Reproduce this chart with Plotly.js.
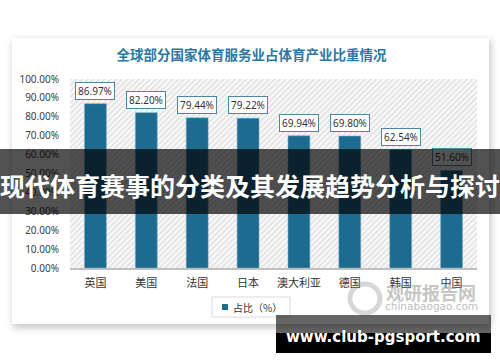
<!DOCTYPE html>
<html><head><meta charset="utf-8">
<script src="https://cdn.plot.ly/plotly-3.0.1.min.js"></script>
<style>html,body{margin:0;padding:0;background:#fff}#chart{width:500px;height:362px}</style>
</head><body><div id="chart"></div>
<script>
const categories = ['英国','美国','法国','日本','澳大利亚','德国','韩国','中国'];
const shares = [86.97, 82.20, 79.44, 79.22, 69.94, 69.80, 62.54, 51.60];
const yTicks = [0,10,20,30,40,50,60,70,80,90,100];
const yTickText = ['0.00%','10.00%','20.00%','30.00%','40.00%','50.00%','60.00%','70.00%','80.00%','90.00%','100.00%'];
const chartTitle = '全球部分国家体育服务业占体育产业比重情况';
const seriesName = '占比（%）';
const bannerText = '现代体育赛事的分类及其发展趋势分析与探讨';
const siteText = 'www.club-pgsport.com';

const W = 500, H = 362;
const M = {l: 70, r: 23, t: 79, b: 94};
const PW = W - M.l - M.r, PH = H - M.t - M.b;
const px = x => (x - M.l) / PW;           // pixel -> paper x
const py = y => (H - M.b - y) / PH;       // pixel -> paper y

const cardSvg = "<svg xmlns='http://www.w3.org/2000/svg' width='500' height='362' viewBox='0 0 500 362'>" +
  "<defs><filter id='s' x='-10%' y='-10%' width='120%' height='120%'><feGaussianBlur stdDeviation='3.5'/></filter></defs>" +
  "<rect x='13' y='40' width='478' height='288' fill='rgba(0,0,0,0.22)' filter='url(#s)'/>" +
  "<rect x='12' y='38' width='477' height='286' fill='#ffffff'/></svg>";
const hatchSvg = "<svg xmlns='http://www.w3.org/2000/svg' width='407' height='189' viewBox='0 0 407 189' preserveAspectRatio='none'>" +
  "<defs><pattern id='p' width='4' height='4' patternUnits='userSpaceOnUse' patternTransform='rotate(45)'>" +
  "<rect width='4' height='4' fill='#f9f9f9'/><rect width='1.6' height='4' fill='#e1e1e1'/></pattern></defs>" +
  "<rect width='407' height='189' fill='url(#p)'/></svg>";
const uri = s => 'data:image/svg+xml;charset=utf-8,' + encodeURIComponent(s);

const barColor = '#1d6b8e';
const trace = {
  type: 'bar', x: categories, y: shares, name: seriesName,
  width: 0.43, showlegend: false,
  marker: {color: barColor, line: {color: 'rgba(120,170,195,0.7)', width: 0.8}},
  hoverinfo: 'x+y'
};

const valueLabels = categories.map((c, i) => ({
  x: c, y: shares[i], xref: 'x', yref: 'y',
  text: shares[i].toFixed(2) + '%', showarrow: false,
  yanchor: 'bottom', yshift: 4,
  bgcolor: '#ffffff', bordercolor: '#4d87a8', borderwidth: 1, borderpad: 2,
  width: 34, height: 12,
  font: {family: 'Noto Sans', size: 10, color: '#333333'}
}));

const annotations = valueLabels.concat([
  {xref: 'paper', yref: 'paper', x: px(250), y: py(181), xanchor: 'center', yanchor: 'middle',
   text: ' ', showarrow: false, width: 500, height: 65, borderpad: 0, borderwidth: 0,
   bgcolor: 'rgba(0,0,0,0.68)'},
  {xref: 'paper', yref: 'paper', x: px(250), y: py(185), xanchor: 'center', yanchor: 'middle',
   text: '<b>' + bannerText + '</b>', showarrow: false,
   font: {family: 'Noto Sans CJK SC', size: 25, color: '#ffffff'}},
  {xref: 'paper', yref: 'paper', x: px(231), y: py(307), xanchor: 'left', yanchor: 'middle',
   text: seriesName, showarrow: false,
   font: {family: 'Noto Sans CJK SC', size: 10, color: '#333333'}},
  {xref: 'paper', yref: 'paper', x: px(431), y: py(292), xanchor: 'center', yanchor: 'middle',
   text: '<b>观研报告网</b>', showarrow: false,
   font: {family: 'Noto Sans CJK SC', size: 18, color: 'rgba(140,140,140,0.5)'}},
  {xref: 'paper', yref: 'paper', x: px(431), y: py(306), xanchor: 'center', yanchor: 'middle',
   text: 'chinabaogao.com', showarrow: false,
   font: {family: 'DejaVu Sans', size: 10.5, color: 'rgba(140,140,140,0.6)'}},
  {xref: 'paper', yref: 'paper', x: px(383.5), y: py(336.5), xanchor: 'center', yanchor: 'middle',
   text: '<b>' + siteText + '</b>', showarrow: false,
   font: {family: 'DejaVu Sans', size: 15, color: '#ffffff'}}
]);

const shapes = [
  // legend box and key
  {type: 'rect', xref: 'paper', yref: 'paper', layer: 'above',
   x0: px(212), x1: px(290), y0: py(317), y1: py(297),
   line: {color: '#d9d9d9', width: 1}, fillcolor: '#ffffff'},
  {type: 'rect', xref: 'paper', yref: 'paper', layer: 'above',
   x0: px(222), x1: px(228), y0: py(310), y1: py(304),
   line: {width: 0}, fillcolor: barColor},
  {type: 'circle', xref: 'paper', yref: 'paper', layer: 'above',
   x0: px(350), x1: px(380), y0: py(313), y1: py(284),
   line: {color: 'rgba(140,140,140,0.35)', width: 5}, fillcolor: 'rgba(0,0,0,0)'},
  {type: 'rect', xref: 'paper', yref: 'paper', layer: 'above',
   x0: px(276), x1: px(491), y0: py(333), y1: py(315),
   line: {width: 0}, fillcolor: 'rgba(0,0,0,0.6)'},
  {type: 'rect', xref: 'paper', yref: 'paper', layer: 'above',
   x0: px(276), x1: px(491), y0: py(353), y1: py(333),
   line: {width: 0}, fillcolor: '#000000'}
];

const layout = {
  width: W, height: H, margin: M,
  paper_bgcolor: '#ffffff', plot_bgcolor: 'rgba(0,0,0,0)',
  font: {family: 'Noto Sans, Noto Sans CJK SC', color: '#333333'},
  title: {text: chartTitle, xref: 'paper', x: px(251.5), xanchor: 'center',
          yref: 'container', y: 1 - 55.5 / H, yanchor: 'middle',
          font: {family: 'Noto Sans CJK SC', size: 13.5, weight: 700, color: '#2c78a3'}},
  xaxis: {type: 'category', showgrid: false, zeroline: false, showline: true,
          linecolor: '#bfbfbf', linewidth: 1.5, ticks: '', ticklabelstandoff: 4,
          tickfont: {family: 'Noto Sans CJK SC', size: 11, color: '#333333'}},
  yaxis: {range: [0, 100], tickmode: 'array', tickvals: yTicks, ticktext: yTickText,
          showgrid: false, zeroline: false, showline: false, ticks: '', ticklabelstandoff: 10,
          tickfont: {family: 'Noto Sans', size: 10, color: '#404040'}},
  showlegend: false,
  images: [
    {source: uri(cardSvg), xref: 'paper', yref: 'paper', x: px(0), y: py(0),
     sizex: W / PW, sizey: H / PH, xanchor: 'left', yanchor: 'top', sizing: 'stretch', layer: 'below'},
    {source: uri(hatchSvg), xref: 'paper', yref: 'paper', x: 0, y: 1,
     sizex: 1, sizey: 1, xanchor: 'left', yanchor: 'top', sizing: 'stretch', layer: 'below'}
  ],
  shapes: shapes,
  annotations: annotations
};

Plotly.newPlot('chart', [trace], layout, {displayModeBar: false, staticPlot: true});
</script></body></html>
